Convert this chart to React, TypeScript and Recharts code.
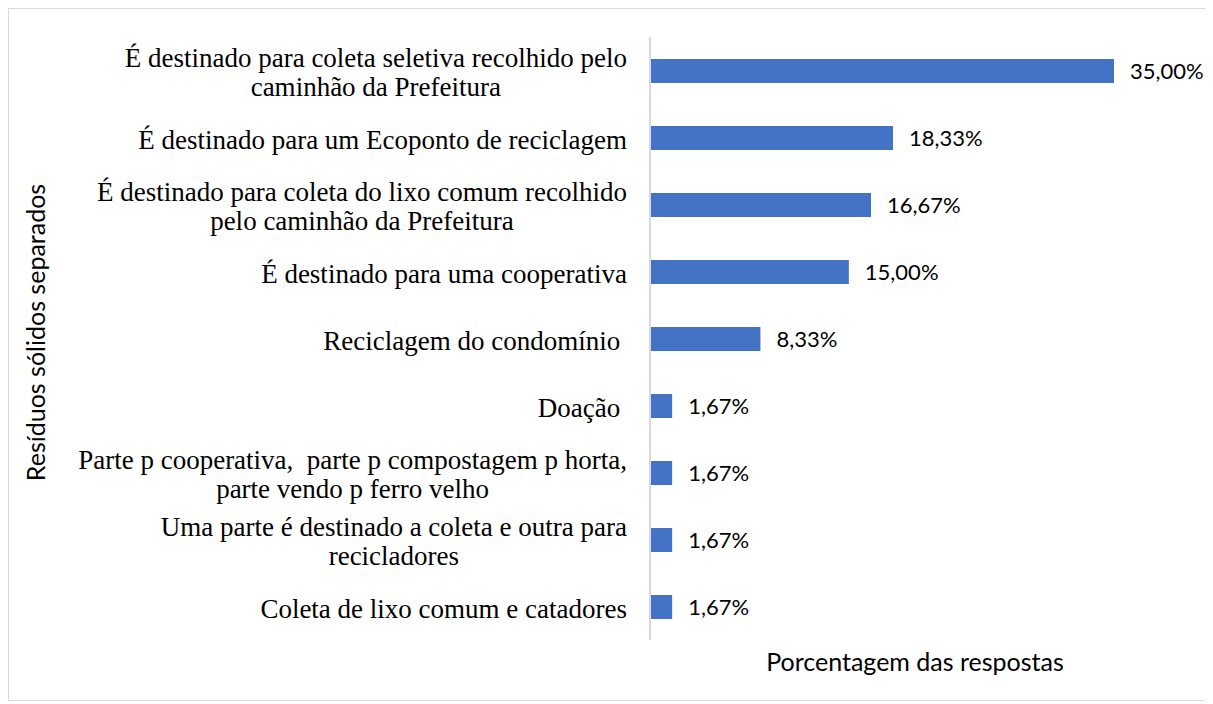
import { Bar, BarChart, LabelList, XAxis, YAxis } from "recharts"

// category labels, split where the original breaks the line
const categories = [
  ["É destinado para coleta seletiva recolhido pelo", "caminhão da Prefeitura"],
  ["É destinado para um Ecoponto de reciclagem"],
  ["É destinado para coleta do lixo comum recolhido", "pelo caminhão da Prefeitura"],
  ["É destinado para uma cooperativa"],
  ["Reciclagem do condomínio "],
  ["Doação "],
  ["Parte p cooperativa,  parte p compostagem p horta,", "parte vendo p ferro velho"],
  ["Uma parte é destinado a coleta e outra para", "recicladores"],
  ["Coleta de lixo comum e catadores"],
]

const values = [35.0, 18.33, 16.67, 15.0, 8.33, 1.67, 1.67, 1.67, 1.67]

const data = categories.map((lines, i) => ({ name: lines.join("\n"), value: values[i] }))

const serif = "'Liberation Serif', 'Times New Roman', serif"
const sans = "Lato, 'Open Sans', sans-serif"
const catSize = 27

let ctx: CanvasRenderingContext2D | null = null
function measure(s: string, font: string) {
  if (!ctx) ctx = document.createElement("canvas").getContext("2d")
  ctx!.font = font
  return ctx!.measureText(s).width
}

function CategoryTick({ x, y, payload }: any) {
  const lines = String(payload.value).split("\n")
  const font = `${catSize}px "Liberation Serif"`
  const widths = lines.map((l) => measure(l, font))
  const blockW = Math.max(...widths)
  const right = x - 23
  const lineH = 29
  const top = y - ((lines.length - 1) * lineH) / 2 + 2
  return (
    <g>
      {lines.map((l, i) => (
        <text
          key={i}
          x={right - blockW / 2 - widths[i] / 2}
          y={top + i * lineH}
          dy="0.35em"
          textAnchor="start"
          fontFamily={serif}
          fontSize={catSize}
          fill="#000"
          style={{ whiteSpace: "pre" }}
        >
          {l}
        </text>
      ))}
    </g>
  )
}

function YTitle({ viewBox }: any) {
  const cx = 26
  const cy = viewBox.y + viewBox.height / 2 - 6
  return (
    <text
      x={cx}
      y={cy}
      transform={`rotate(-90, ${cx}, ${cy})`}
      textAnchor="middle"
      dominantBaseline="central"
      fontFamily={sans}
      fontSize={25}
      fill="#000"
    >
      Resíduos sólidos separados
    </text>
  )
}

function XTitle({ viewBox }: any) {
  return (
    <text
      x={906}
      y={viewBox.y + 21}
      textAnchor="middle"
      dominantBaseline="central"
      fontFamily={sans}
      fontSize={25}
      fill="#000"
    >
      Porcentagem das respostas
    </text>
  )
}

const fmt = (v: any) => Number(v).toFixed(2).replace(".", ",") + "%"

export default function App() {
  return (
    <div style={{ width: 1201, height: 691, border: "1px solid #d9d9d9", background: "#fff" }}>
      <BarChart
        width={1201}
        height={691}
        data={data}
        layout="vertical"
        margin={{ top: 28, right: 96, bottom: 0, left: 0 }}
      >
        <XAxis
          type="number"
          domain={[0, 35]}
          height={60}
          axisLine={false}
          tickLine={false}
          tick={false}
          label={<XTitle />}
        />
        <YAxis
          type="category"
          dataKey="name"
          width={641}
          tickSize={0}
          tickMargin={0}
          tickLine={false}
          axisLine={{ stroke: "#d9d9d9", strokeWidth: 2 }}
          tick={<CategoryTick />}
          interval={0}
          label={<YTitle />}
        />
        <Bar dataKey="value" fill="#4472C4" barSize={24} isAnimationActive={false}>
          <LabelList
            dataKey="value"
            position="right"
            offset={16}
            formatter={fmt}
            fill="#000"
            fontSize={22}
            fontFamily={sans}
          />
        </Bar>
      </BarChart>
    </div>
  )
}
